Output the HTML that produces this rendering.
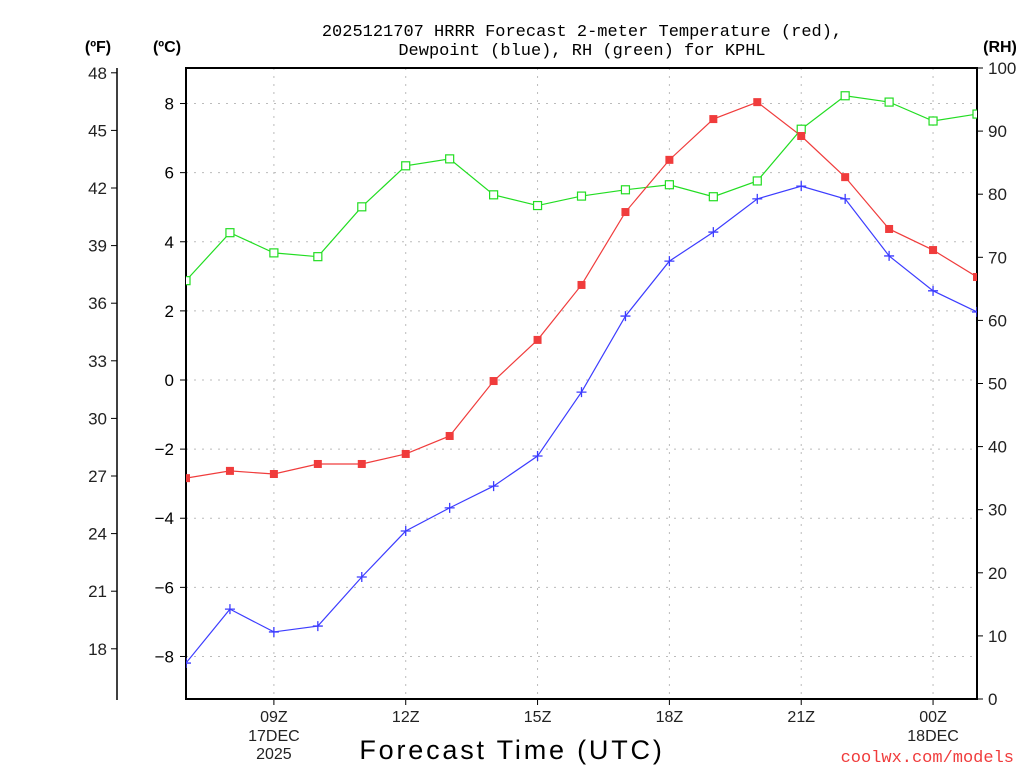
<!DOCTYPE html>
<html><head><meta charset="utf-8"><style>
body{margin:0;background:#fff;}
svg{display:block;font-family:"Liberation Sans",sans-serif;}
</style></head><body>
<svg id="chart" width="1024" height="768" viewBox="0 0 1024 768" xmlns="http://www.w3.org/2000/svg">
<text x="582" y="36" font-size="17" font-family="Liberation Mono, monospace" text-anchor="middle" fill="#000">2025121707 HRRR Forecast 2-meter Temperature (red),</text>
<text x="582" y="55" font-size="17" font-family="Liberation Mono, monospace" text-anchor="middle" fill="#000">Dewpoint (blue), RH (green) for KPHL</text>
<text x="98" y="52" font-size="16" font-weight="bold" text-anchor="middle">(ºF)</text>
<text x="167" y="52" font-size="16" font-weight="bold" text-anchor="middle">(ºC)</text>
<text x="1000" y="52" font-size="16" font-weight="bold" text-anchor="middle">(RH)</text>
<text x="512" y="759" font-size="27" text-anchor="middle" letter-spacing="2.8">Forecast Time (UTC)</text>
<text x="1014" y="762" font-size="17" font-family="Liberation Mono, monospace" text-anchor="end" fill="#f03c3c">coolwx.com/models</text>
<g id="grid"></g><g id="axes"></g><g id="series"></g>
</svg>
<script>
const hours=[7,8,9,10,11,12,13,14,15,16,17,18,19,20,21,22,23,24,25];
const tempC=[-2.84,-2.63,-2.72,-2.43,-2.43,-2.14,-1.62,-0.03,1.16,2.75,4.86,6.37,7.55,8.04,7.06,5.87,4.37,3.76,2.98];
const dewC=[-8.19,-6.63,-7.29,-7.12,-5.70,-4.37,-3.70,-3.07,-2.20,-0.35,1.85,3.44,4.28,5.24,5.61,5.24,3.59,2.58,1.97];
const rh=[66.3,73.9,70.7,70.1,78.0,84.5,85.6,79.9,78.2,79.7,80.7,81.5,79.6,82.1,90.3,95.6,94.6,91.6,92.7];
const cTicks=[8,6,4,2,0,-2,-4,-6,-8];
const fTicks=[48,45,42,39,36,33,30,27,24,21,18];
const rhTicks=[0,10,20,30,40,50,60,70,80,90,100];
const xTicks=[9,12,15,18,21,24];
const xLabels=["09Z","12Z","15Z","18Z","21Z","00Z"];
const xSub={9:["17DEC","2025"],24:["18DEC"]};
const L=186,R=977,T=68,B=699;
const X=h=>L+(h-7)*(R-L)/18;
const YC=c=>380-c*34.56;
const YF=f=>YC((f-32)/1.8);
const YR=r=>B-(r/100)*(B-T);
const NS="http://www.w3.org/2000/svg";
function mk(tag,attrs,parent,txt){const e=document.createElementNS(NS,tag);for(const k in attrs)e.setAttribute(k,attrs[k]);if(txt!==undefined)e.textContent=txt;parent.appendChild(e);return e;}
const grid=document.getElementById('grid'),axes=document.getElementById('axes'),ser=document.getElementById('series');
cTicks.forEach(c=>{const y=YC(c);
 const g=mk('line',{x1:L,x2:R,y1:y,y2:y,stroke:'#bbb','stroke-dasharray':'2,6'},grid);
 
 mk('line',{x1:L-6,x2:L,y1:y,y2:y,stroke:'#000'},axes);
 const t=mk('text',{x:L-12,y:y+6,'font-size':17,'text-anchor':'end'},axes,c<0?'\u2212'+(-c):String(c));
 });
xTicks.forEach((h,i)=>{const x=X(h);
 const g=mk('line',{x1:x,x2:x,y1:T,y2:B,stroke:'#bbb','stroke-dasharray':'2,6'},grid);
 
 mk('line',{x1:x,x2:x,y1:B,y2:B+6,stroke:'#000'},axes);
 const t=mk('text',{x:x,y:722,'font-size':16,'text-anchor':'middle',fill:'#222'},axes,xLabels[i]);
 
 (xSub[h]||[]).forEach((s,j)=>{const u=mk('text',{x:x,y:741+j*18,'font-size':16,'text-anchor':'middle',fill:'#222'},axes,s);
 });});
const fa=mk('line',{x1:117,x2:117,y1:68,y2:700,stroke:'#000','stroke-width':1.5},axes);

fTicks.forEach(f=>{const y=YF(f);mk('line',{x1:111,x2:117,y1:y,y2:y,stroke:'#000'},axes);
 const t=mk('text',{x:107,y:y+6,'font-size':17,'text-anchor':'end',fill:'#222'},axes,String(f));
 });
rhTicks.forEach(r=>{const y=YR(r);mk('line',{x1:R,x2:R+6,y1:y,y2:y,stroke:'#000'},axes);
 const t=mk('text',{x:988,y:y+6,'font-size':17,fill:'#222'},axes,String(r));
 });
const fr=mk('rect',{x:L,y:T,width:R-L,height:B-T,fill:'none',stroke:'#000','stroke-width':2},axes);

function line(vals,yf,color,name){
 const pl=mk('polyline',{points:vals.map((v,i)=>X(hours[i])+','+yf(v)).join(' '),fill:'none',stroke:color,'stroke-width':1.2},ser);
 return pl;}
const clip=mk('clipPath',{id:'pc'},ser);mk('rect',{x:L,y:T,width:R-L,height:B-T},clip);
ser.setAttribute('clip-path','url(#pc)');
line(rh,YR,'#22dd22','rh');
line(tempC,YC,'#f03c3c','temperature');
line(dewC,YC,'#3c3cff','dewpoint');
rh.forEach((v,i)=>{const m=mk('rect',{x:X(hours[i])-4,y:YR(v)-4,width:8,height:8,fill:'#fff',stroke:'#22dd22','stroke-width':1.2},ser);
 });
tempC.forEach((v,i)=>{const m=mk('rect',{x:X(hours[i])-4,y:YC(v)-4,width:8,height:8,fill:'#f03c3c'},ser);
 });
dewC.forEach((v,i)=>{const x=X(hours[i]),y=YC(v);
 const m=mk('path',{d:`M${x-5},${y}H${x+5}M${x},${y-5}V${y+5}`,stroke:'#3c3cff','stroke-width':1.3},ser);
 });
</script>
</body></html>
